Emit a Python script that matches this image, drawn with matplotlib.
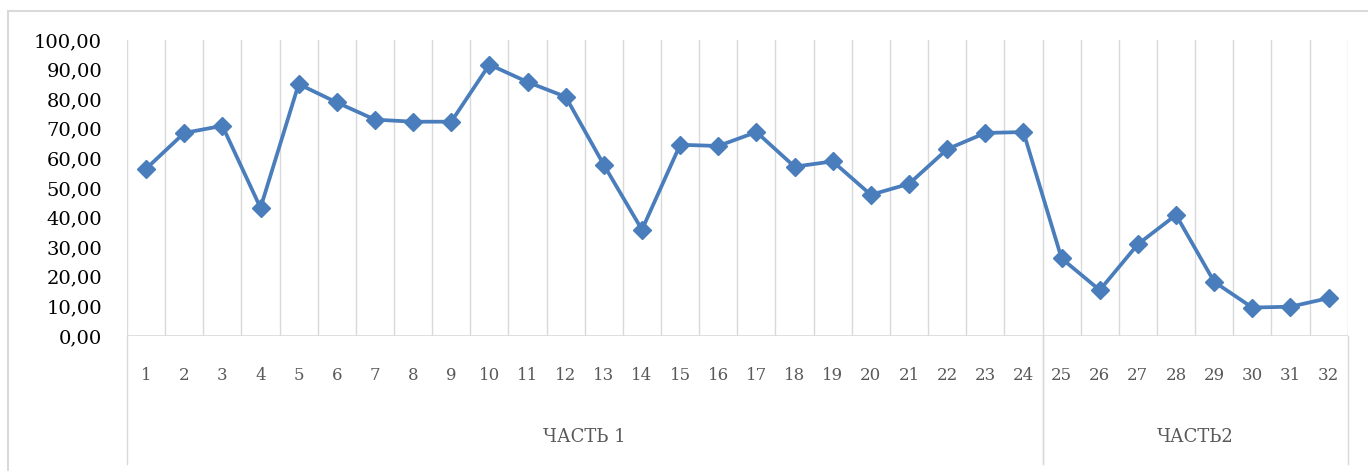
import matplotlib.pyplot as plt
from matplotlib.patches import Rectangle

# --- data ---
nums = list(range(1, 33))
values = [56.5, 68.6, 71.0, 43.3, 85.1, 78.9, 73.1, 72.4, 72.4, 91.7,
          85.8, 80.8, 57.8, 35.9, 64.6, 64.2, 68.9, 57.2, 59.0, 47.7,
          51.4, 63.1, 68.6, 68.9, 26.2, 15.5, 31.0, 40.9, 18.3, 9.6,
          9.9, 12.8]
groups = ['ЧАСТЬ 1', 'ЧАСТЬ2']
group_bounds = [(0.5, 24.5), (24.5, 32.5)]
yticks = [0, 10, 20, 30, 40, 50, 60, 70, 80, 90, 100]

line_col = '#4a7dbb'
grid_col = '#d9d9d9'
plt.rcParams['font.family'] = ['DejaVu Serif']

fig = plt.figure(figsize=(13.68, 4.71), dpi=100)
# outer chart frame (cut by the picture edge on the right)
fig.patches.append(Rectangle((8 / 1368, -0.1), 1.2, (471 - 11) / 471 + 0.1,
                             transform=fig.transFigure, fill=False,
                             edgecolor=grid_col, linewidth=1.5))

ax = fig.add_axes([127 / 1368, (471 - 336) / 471, (1347.7 - 127) / 1368, 296 / 471])

ax.plot(nums, values, color=line_col, linewidth=2.7, marker='D',
        markersize=9.5, markerfacecolor=line_col, markeredgecolor=line_col,
        zorder=3)

ax.set_xlim(0.5, 32.5)
ax.set_ylim(0, 100)

# vertical gridlines on category boundaries
for b in range(33):
    ax.axvline(b + 0.5, color=grid_col, linewidth=1, zorder=1)
ax.axhline(0, color=grid_col, linewidth=1.2, zorder=2)

for s in ax.spines.values():
    s.set_visible(False)

ax.set_yticks(yticks)
ax.set_yticklabels([('%.2f' % v).replace('.', ',') for v in yticks])
ax.tick_params(axis='y', length=0, pad=18, labelsize=14, labelcolor='black')

ax.set_xticks(nums)
ax.set_xticklabels([str(n) for n in nums])
ax.tick_params(axis='x', length=0, pad=22, labelsize=12, labelcolor='#595959')

# group separators and group labels below the axis
trans = ax.get_xaxis_transform()
for lo, hi in group_bounds:
    ax.plot([lo, lo], [0, -0.432], color=grid_col, linewidth=1, transform=trans, clip_on=False)
    ax.plot([hi, hi], [0, -0.432], color=grid_col, linewidth=1, transform=trans, clip_on=False)
for g, (lo, hi) in zip(groups, group_bounds):
    ax.text((lo + hi) / 2, -0.341, g, transform=trans, ha='center', va='center',
            fontsize=13, color='#595959')

fig.savefig('out.png', dpi=100)
